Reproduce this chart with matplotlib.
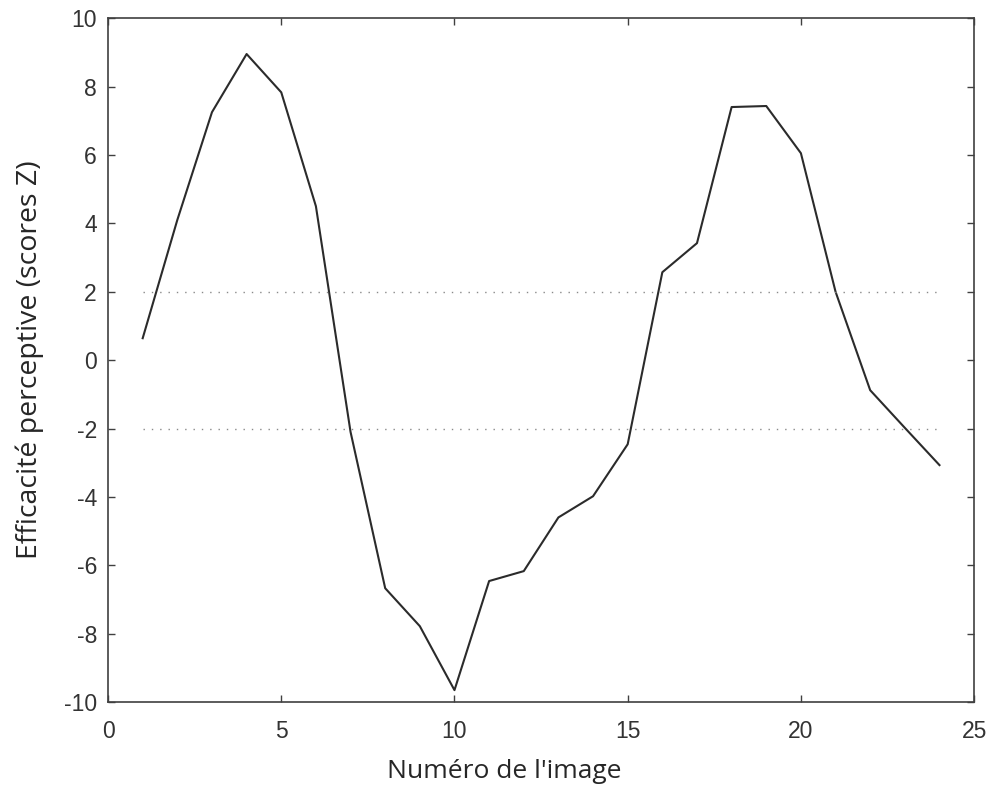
import numpy as np
import matplotlib.pyplot as plt

plt.rcParams['font.family'] = ['Liberation Sans', 'DejaVu Sans']
plt.rcParams['axes.unicode_minus'] = False

# Données
images = np.arange(1, 25)
scores_z = [0.64, 4.1, 7.25, 8.95, 7.83, 4.5, -2.1, -6.67, -7.78, -9.65,
            -6.46, -6.17, -4.6, -3.98, -2.46, 2.57, 3.42, 7.4, 7.43, 6.05,
            2.0, -0.88, -1.98, -3.07]
seuils = [2, -2]

fig = plt.figure(figsize=(9.94, 7.88), dpi=100)
ax = fig.add_axes([0.1087, 0.109, 0.8713, 0.868])

ax.plot(images, scores_z, color='#2b2b2b', linewidth=1.5)
for s in seuils:
    ax.plot([images[0], images[-1]], [s, s], color='#8a8a8a', linestyle=(0, (1, 5)), linewidth=1.0)

ax.set_xlim(0, 25)
ax.set_ylim(-10, 10)
ax.set_xticks(np.arange(0, 26, 5))
ax.set_yticks(np.arange(-10, 11, 2))
ax.tick_params(direction='in', top=True, right=True, length=5, width=1, colors='#404040',
               labelsize=16.5, labelcolor='#333333')
ax.tick_params(axis='x', pad=13)
ax.tick_params(axis='y', pad=8)
for sp in ax.spines.values():
    sp.set_color('#404040')
    sp.set_linewidth(1.2)

ax.set_xlabel("Numéro de l'image", fontsize=19, color='#262626', family='Open Sans')
ax.xaxis.set_label_coords(0.458, -0.083)
ax.set_ylabel('Efficacité perceptive (scores Z)', fontsize=20.5, color='#262626', family='Open Sans', labelpad=14)

fig.savefig('out.png', dpi=100)
